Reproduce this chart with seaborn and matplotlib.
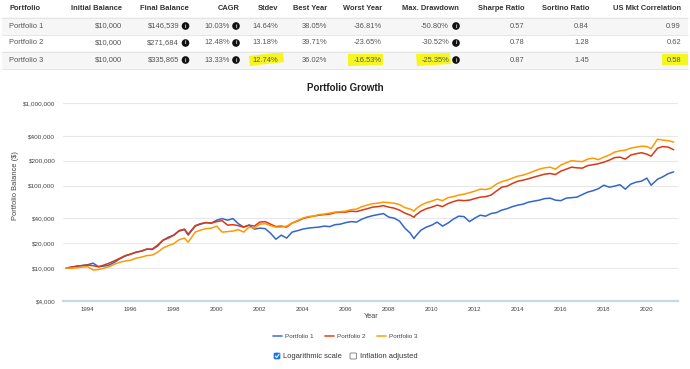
import numpy as np
import pandas as pd
import seaborn as sns
import matplotlib
matplotlib.use("Agg")
import matplotlib.pyplot as plt
from matplotlib.patches import Polygon, Rectangle, FancyBboxPatch
from matplotlib.lines import Line2D
from matplotlib.ticker import FixedLocator, NullLocator

# ---------------- data ----------------
portfolios = ["Portfolio 1", "Portfolio 2", "Portfolio 3"]
colors = ["#3366cc", "#dc3912", "#ff9900"]

table_headers = ["Portfolio", "Initial Balance", "Final Balance", "CAGR", "Stdev", "Best Year",
                 "Worst Year", "Max. Drawdown", "Sharpe Ratio", "Sortino Ratio", "US Mkt Correlation"]
initial_balance = ["$10,000", "$10,000", "$10,000"]
final_balance = ["$146,539", "$271,684", "$335,865"]
cagr = ["10.03%", "12.48%", "13.33%"]
stdev = ["14.64%", "13.18%", "12.74%"]
best_year = ["38.05%", "39.71%", "36.02%"]
worst_year = ["-36.81%", "-23.65%", "-16.53%"]
max_drawdown = ["-50.80%", "-30.52%", "-25.35%"]
sharpe = ["0.57", "0.78", "0.87"]
sortino = ["0.84", "1.28", "1.45"]
us_mkt_corr = ["0.99", "0.62", "0.58"]

years = [1993.0, 1993.25, 1993.5, 1993.75, 1994.0, 1994.25, 1994.5, 1994.75,
         1995.0, 1995.25, 1995.5, 1995.75, 1996.0, 1996.25, 1996.5, 1996.75,
         1997.0, 1997.25, 1997.5, 1997.75, 1998.0, 1998.25, 1998.5, 1998.67,
         1999.0, 1999.25, 1999.5, 1999.75, 2000.0, 2000.25, 2000.5, 2000.75,
         2001.0, 2001.25, 2001.5, 2001.75, 2002.0, 2002.25, 2002.5, 2002.75,
         2003.0, 2003.25, 2003.5, 2003.75, 2004.0, 2004.25, 2004.5, 2004.75,
         2005.0, 2005.25, 2005.5, 2005.75, 2006.0, 2006.25, 2006.5, 2006.75,
         2007.0, 2007.25, 2007.5, 2007.75, 2008.0, 2008.25, 2008.5, 2008.75,
         2009.0, 2009.17, 2009.25, 2009.5, 2009.75, 2010.0, 2010.25, 2010.5, 2010.75,
         2011.0, 2011.25, 2011.5, 2011.75, 2012.0, 2012.25, 2012.5, 2012.75,
         2013.0, 2013.25, 2013.5, 2013.75, 2014.0, 2014.25, 2014.5, 2014.75,
         2015.0, 2015.25, 2015.5, 2015.75, 2016.0, 2016.25, 2016.5, 2016.75,
         2017.0, 2017.25, 2017.5, 2017.75, 2018.0, 2018.25, 2018.5, 2018.75,
         2019.0, 2019.25, 2019.5, 2019.75, 2020.0, 2020.2, 2020.5, 2020.75,
         2021.0, 2021.25]

# balances in thousands of dollars
p1 = [10.0, 10.3, 10.5, 10.8, 11.0, 11.5, 10.4, 10.6,
      10.9, 11.8, 13.0, 14.0, 14.8, 15.6, 16.1, 17.0,
      16.8, 18.5, 21.8, 23.7, 25.1, 28.1, 29.3, 25.1,
      32.3, 34.1, 35.6, 35.1, 38.1, 39.8, 38.1, 39.8,
      34.6, 31.4, 33.2, 29.7, 30.5, 30.1, 26.5, 22.4,
      25.1, 23.1, 27.3, 28.4, 29.7, 30.5, 31.0, 31.4,
      32.3, 31.8, 33.6, 34.1, 35.6, 36.6, 36.1, 39.2,
      41.5, 43.2, 44.5, 45.8, 41.5, 40.3, 37.1, 30.5,
      26.5, 22.8, 24.4, 28.9, 31.4, 33.2, 36.1, 32.3, 35.1,
      39.2, 42.6, 42.1, 36.6, 40.3, 43.8, 42.6, 45.8,
      47.0, 50.4, 52.5, 55.6, 58.0, 59.6, 63.0, 64.8,
      66.6, 69.5, 70.4, 66.6, 65.7, 70.4, 71.4, 72.4,
      77.8, 83.3, 86.7, 91.7, 101.0, 95.6, 98.4, 102.5,
      90.5, 104.0, 110.0, 113.0, 123.0, 101.0, 119.5, 128.0,
      139.5, 146.5]
p2 = [10.0, 10.3, 10.6, 10.7, 10.9, 10.7, 10.4, 10.9,
      11.5, 12.3, 13.2, 14.2, 14.8, 15.6, 16.1, 17.0,
      17.0, 19.0, 21.8, 23.1, 25.1, 28.5, 29.7, 25.8,
      32.7, 34.6, 35.6, 35.1, 36.6, 37.6, 33.2, 33.6,
      32.7, 31.4, 33.2, 32.3, 36.1, 36.6, 34.1, 31.9,
      32.3, 31.4, 35.1, 37.1, 39.8, 41.5, 42.6, 43.8,
      44.5, 45.1, 47.0, 47.7, 47.7, 49.0, 48.4, 50.4,
      52.5, 54.8, 55.6, 57.2, 54.8, 53.3, 50.4, 46.4,
      43.8, 41.3, 43.8, 49.0, 52.5, 54.8, 58.0, 55.6, 60.4,
      63.9, 66.6, 65.7, 66.6, 69.5, 72.4, 73.4, 76.6,
      85.6, 95.6, 98.4, 106.0, 113.0, 116.3, 121.0, 126.5,
      132.0, 137.5, 140.0, 136.0, 149.5, 158.0, 167.0, 164.0,
      162.5, 174.5, 179.0, 184.0, 192.0, 203.0, 218.0, 221.0,
      209.0, 234.0, 243.0, 250.0, 240.0, 227.0, 284.0, 297.0,
      292.0, 271.7]
p3 = [10.0, 10.0, 10.1, 10.3, 10.4, 9.5, 9.6, 10.0,
      10.4, 11.2, 11.8, 12.2, 12.5, 13.2, 13.6, 14.2,
      14.4, 15.6, 17.5, 18.7, 19.8, 22.1, 23.1, 20.6,
      27.3, 28.9, 30.1, 30.5, 32.3, 27.3, 27.7, 28.1,
      29.3, 27.3, 31.4, 30.5, 34.1, 34.6, 32.7, 31.4,
      31.4, 32.3, 35.1, 37.6, 40.3, 42.1, 42.6, 44.5,
      45.1, 46.4, 47.7, 48.4, 49.0, 51.1, 51.9, 55.6,
      58.0, 60.4, 61.2, 63.0, 62.1, 61.2, 58.8, 54.1,
      51.9, 49.0, 51.9, 58.0, 62.1, 64.8, 68.5, 65.7, 71.4,
      73.4, 76.6, 78.7, 82.0, 85.6, 90.5, 89.5, 93.1,
      104.0, 111.5, 116.3, 123.0, 130.0, 134.0, 141.0, 149.5,
      158.0, 164.0, 167.0, 158.0, 177.0, 189.0, 200.0, 197.0,
      195.0, 209.0, 215.0, 206.0, 221.0, 234.0, 254.0, 264.0,
      268.6, 284.0, 292.0, 300.0, 297.0, 280.0, 365.0, 355.0,
      350.0, 335.9]

y_ticks = [4000, 10000, 20000, 40000, 100000, 200000, 400000, 1000000]
y_tick_labels = ["$4,000", "$10,000", "$20,000", "$40,000", "$100,000", "$200,000", "$400,000", "$1,000,000"]
x_ticks = [1994, 1996, 1998, 2000, 2002, 2004, 2006, 2008, 2010, 2012, 2014, 2016, 2018, 2020]

# ---------------- build frame ----------------
frames = []
for name, vals in zip(portfolios, [p1, p2, p3]):
    frames.append(pd.DataFrame({"Year": years, "Balance": np.array(vals) * 1000.0, "Portfolio": name}))
df = pd.concat(frames, ignore_index=True)

sns.set_theme(style="white")
plt.rcParams["font.family"] = ["Liberation Sans", "DejaVu Sans"]

W, H = 690, 369
fig = plt.figure(figsize=(W / 100, H / 100), dpi=100)


def fx(px):
    return px / W


def fy(py):
    return 1 - py / H


# ---------------- chart ----------------
ax = fig.add_axes([fx(63), fy(301), fx(678) - fx(63), fy(103) - fy(301)])
sns.lineplot(data=df, x="Year", y="Balance", hue="Portfolio", palette=colors,
             linewidth=1.1, ax=ax, legend=False)
ax.set_yscale("log")
ax.set_ylim(4000, 1000000)
ax.set_xlim(1992.85, 2021.45)
ax.yaxis.set_major_locator(FixedLocator(y_ticks))
ax.yaxis.set_minor_locator(NullLocator())
ax.set_yticklabels(y_tick_labels)
ax.set_xticks(x_ticks)
ax.set_xticklabels([str(t) for t in x_ticks])
ax.tick_params(axis="y", length=0, pad=5.5, labelsize=4.6, labelcolor="#444444")
ax.tick_params(axis="x", length=0, pad=4.5, labelsize=4.4, labelcolor="#444444")
ax.set_xlabel("")
ax.set_ylabel("")
for s in ["top", "right", "left"]:
    ax.spines[s].set_visible(False)
ax.spines["bottom"].set_color("#ccd6eb")
ax.spines["bottom"].set_linewidth(1.6)
for t in y_ticks[1:]:
    ax.axhline(t, color="#e8e8e8", linewidth=0.8, zorder=0)

fig.text(fx(345), fy(88), "Portfolio Growth", ha="center", va="center",
         fontsize=7, fontweight="bold", color="#222222")
fig.text(fx(371), fy(317), "Year", ha="center", va="center", fontsize=5.2, color="#444444")
fig.text(fx(16), fy(186), "Portfolio Balance ($)", ha="center", va="center",
         rotation=90, fontsize=5.4, color="#444444")

# ---------------- legend ----------------
leg_x = [273, 325, 377]
for lx, name, c in zip(leg_x, portfolios, colors):
    fig.add_artist(Line2D([fx(lx), fx(lx + 9)], [fy(336), fy(336)], color=c, linewidth=1.3,
                          alpha=0.8, transform=fig.transFigure))
    fig.text(fx(lx + 12), fy(336), name, ha="left", va="center", fontsize=4.6, color="#444444")

# ---------------- checkboxes ----------------
fig.add_artist(FancyBboxPatch((fx(274), fy(359)), fx(6), fy(353) - fy(359),
                              boxstyle="round,pad=0,rounding_size=0.002",
                              facecolor="#1a73e8", edgecolor="#1a73e8", linewidth=0.5,
                              transform=fig.transFigure))
fig.add_artist(Line2D([fx(275.3), fx(276.6), fx(279)], [fy(356), fy(357.6), fy(354.3)],
                      color="white", linewidth=0.8, transform=fig.transFigure))
fig.text(fx(283), fy(356), "Logarithmic scale", ha="left", va="center", fontsize=5.4, color="#333333")
fig.add_artist(FancyBboxPatch((fx(350), fy(359)), fx(6.5), fy(353) - fy(359),
                              boxstyle="round,pad=0,rounding_size=0.002",
                              facecolor="white", edgecolor="#777777", linewidth=0.6,
                              transform=fig.transFigure))
fig.text(fx(360), fy(356), "Inflation adjusted", ha="left", va="center", fontsize=5.4, color="#333333")

# ---------------- table ----------------
row_y = [9, 26, 43, 60]
for (y0, y1) in [(17.5, 34.5), (51.5, 68.5)]:
    fig.add_artist(Rectangle((fx(2), fy(y1)), fx(688) - fx(2), fy(y0) - fy(y1),
                             facecolor="#f6f6f6", edgecolor="none", transform=fig.transFigure))
for yl in [17.5, 34.5, 51.5, 68.5]:
    fig.add_artist(Line2D([fx(2), fx(688)], [fy(yl), fy(yl)], color="#e2e2e2",
                          linewidth=0.6, transform=fig.transFigure))

highlights = [
    [(249, 56), (283, 52), (284, 62), (250, 66)],
    [(348, 54), (383, 54), (383, 65), (348, 66)],
    [(416, 54), (450, 53), (451, 64), (417, 66)],
    [(662, 54), (688, 54), (688, 65), (662, 65)],
]
for poly in highlights:
    fig.add_artist(Polygon([(fx(a), fy(b)) for a, b in poly], closed=True,
                           facecolor="#f5f520", edgecolor="none", transform=fig.transFigure))

header_right = [None, 122, 189, 240, 278, 327, 382, 459, 524, 589, 681]
fs_tab = 5.4
fig.text(fx(9), fy(row_y[0]), table_headers[0], ha="left", va="center",
         fontsize=fs_tab, fontweight="bold", color="#333333")
for h, xr in zip(table_headers[1:], header_right[1:]):
    fig.text(fx(xr), fy(row_y[0]), h, ha="right", va="center", fontsize=fs_tab,
             fontweight="bold", color="#333333")


def info_icon(xc, yc):
    fig.text(fx(xc), fy(yc), "i", ha="center", va="center", fontsize=3.4, fontweight="bold",
             color="white", bbox=dict(boxstyle="circle,pad=0.28", facecolor="#111111", edgecolor="none"))


val_color = "#555555"
for i in range(3):
    yy = row_y[i + 1]
    fig.text(fx(9), fy(yy), portfolios[i], ha="left", va="center", fontsize=fs_tab, color=val_color)
    cols = [
        (initial_balance[i], 122, None),
        (final_balance[i], 179, 185.5),
        (cagr[i], 230, 236),
        (stdev[i], 278, None),
        (best_year[i], 327, None),
        (worst_year[i], 382, None),
        (max_drawdown[i], 449, 456),
        (sharpe[i], 524, None),
        (sortino[i], 589, None),
        (us_mkt_corr[i], 681, None),
    ]
    for txt, xr, icon in cols:
        fig.text(fx(xr), fy(yy), txt, ha="right", va="center", fontsize=fs_tab, color=val_color)
        if icon is not None:
            info_icon(icon, yy)

fig.savefig("out.png", dpi=100, facecolor="white")
